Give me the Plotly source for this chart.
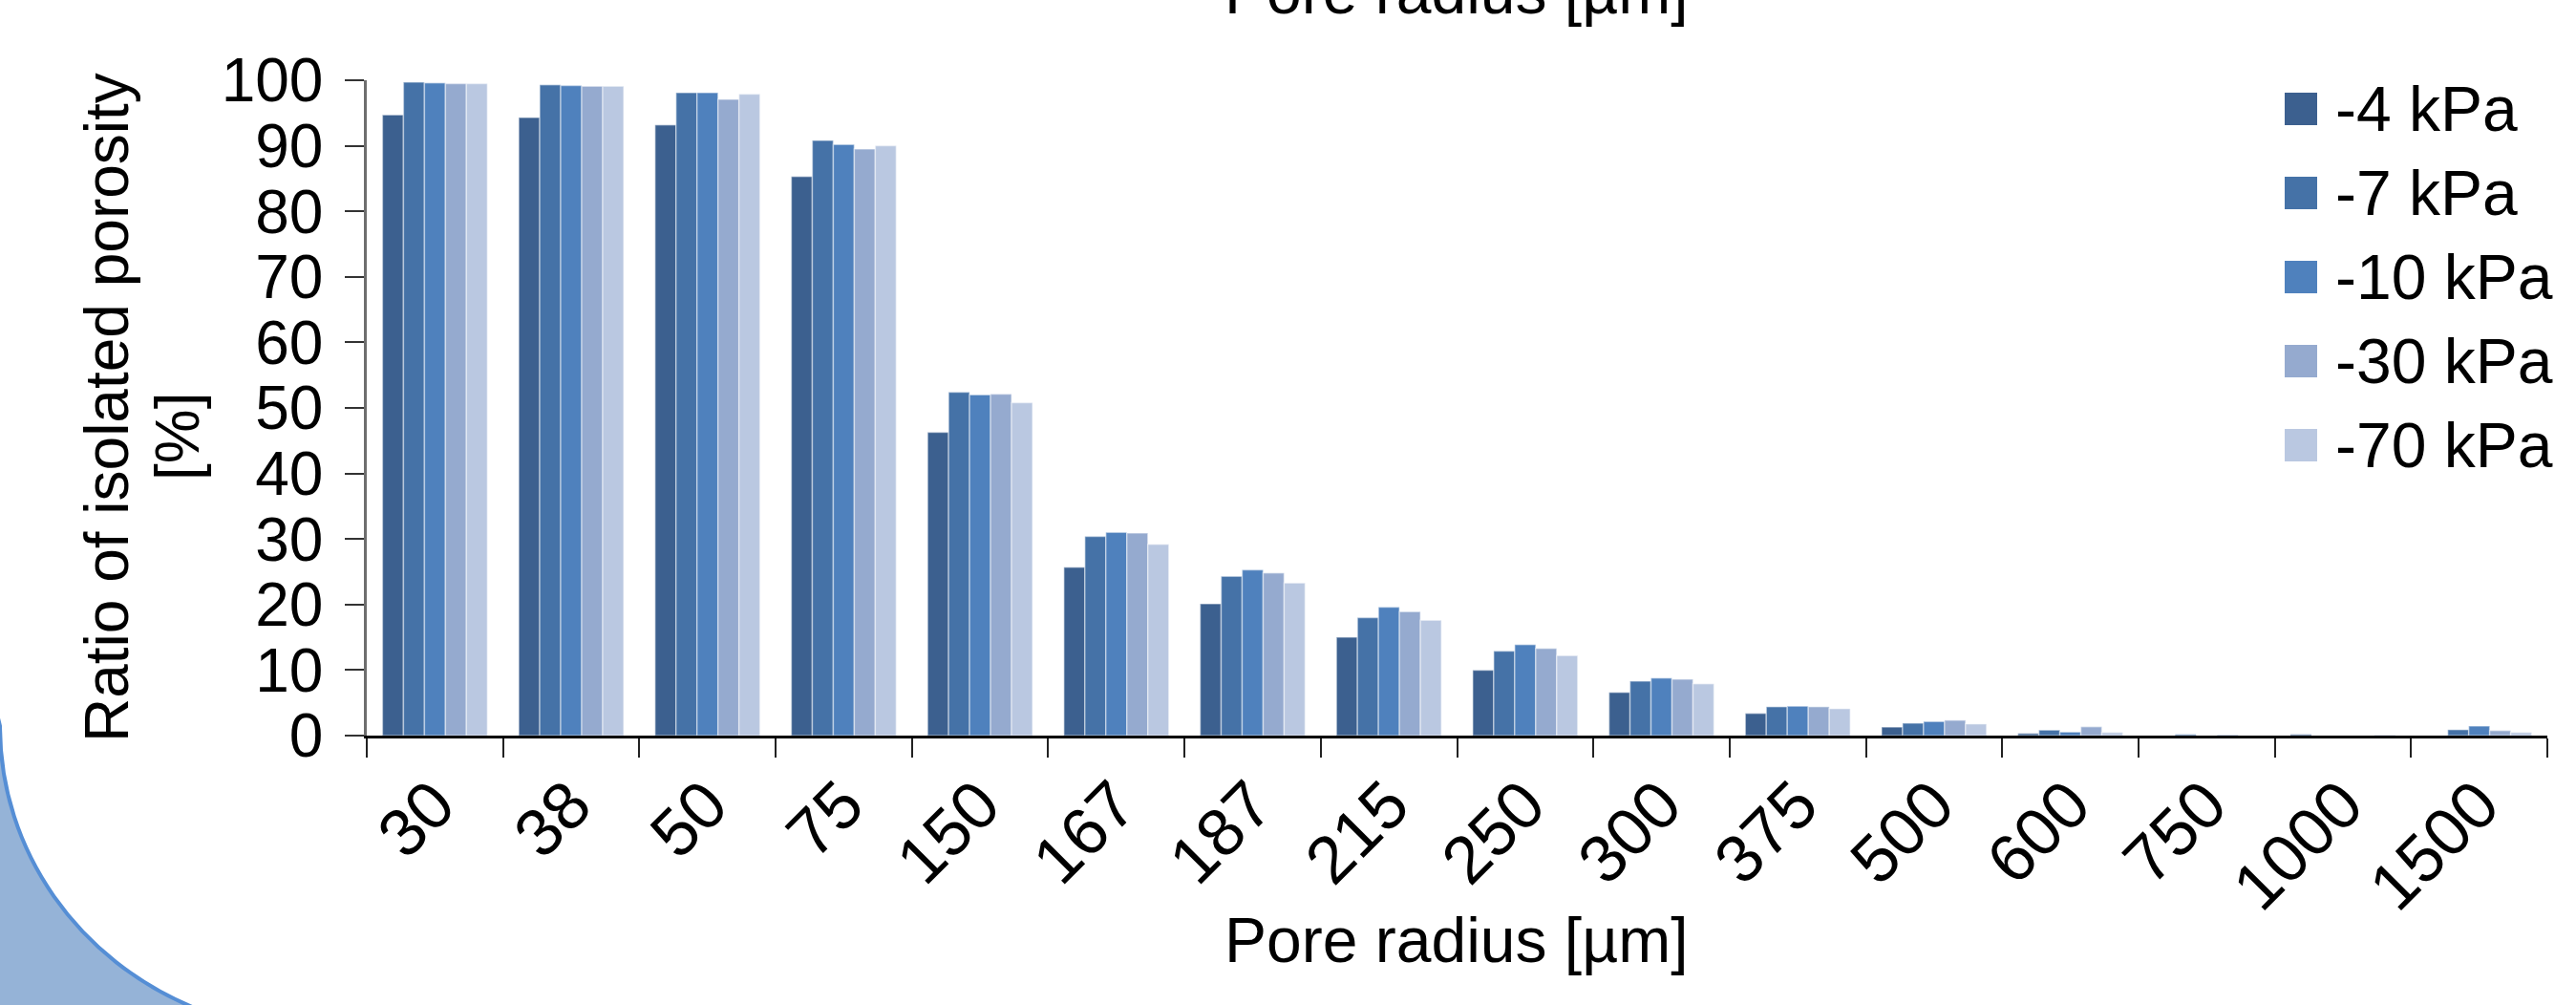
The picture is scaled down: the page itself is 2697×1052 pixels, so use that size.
import plotly.graph_objects as go

# ---------------- data ----------------
pore_radius = ["30", "38", "50", "75", "150", "167", "187", "215", "250",
               "300", "375", "500", "600", "750", "1000", "1500"]
series_names = ["-4 kPa", "-7 kPa", "-10 kPa", "-30 kPa", "-70 kPa"]
kpa_4 = [94.7, 94.3, 93.2, 85.3, 46.3, 25.7, 20.1, 15.0, 10.0, 6.6, 3.4, 1.3, 0.34, 0.0, 0.2, 0.0]
kpa_7 = [99.7, 99.3, 98.1, 90.8, 52.4, 30.4, 24.3, 18.0, 12.9, 8.3, 4.4, 1.9, 0.85, 0.2, 0.0, 0.9]
kpa_10 = [99.6, 99.2, 98.1, 90.2, 52.0, 31.0, 25.3, 19.6, 13.9, 8.8, 4.5, 2.15, 0.55, 0.0, 0.0, 1.46]
kpa_30 = [99.5, 99.1, 97.1, 89.5, 52.1, 30.9, 24.8, 18.9, 13.3, 8.6, 4.4, 2.35, 1.36, 0.12, 0.0, 0.78]
kpa_70 = [99.5, 99.1, 97.9, 90.0, 50.8, 29.2, 23.3, 17.6, 12.2, 7.9, 4.1, 1.77, 0.49, 0.0, 0.1, 0.49]
series_values = [kpa_4, kpa_7, kpa_10, kpa_30, kpa_70]
y_ticks = list(range(0, 101, 10))

x_title = "Pore radius [µm]"
y_title_1 = "Ratio of isolated porosity"
y_title_2 = "[%]"

# ---------------- style ----------------
colors = ["#3C608F", "#4572A7", "#4F81BD", "#95AACF", "#BAC8E1"]
FONT = "Liberation Sans, Arial, sans-serif"
W, H = 2697, 1052
L, R, T, B = 384, 30, 84, 282
PW, PH = W - L - R, H - T - B


def px(xp):
    return (xp - L) / PW


def py(yp):
    return (H - B - yp) / PH


fig = go.Figure()
for name, vals, col in zip(series_names, series_values, colors):
    fig.add_trace(go.Bar(
        x=pore_radius, y=vals, name=name, showlegend=False,
        marker=dict(color=col, line=dict(color="rgba(255,255,255,0.45)", width=1.5)),
    ))

shapes = []
annotations = []

# decorative corner shape (bottom-left)
path = (f"M {px(-6)},{py(735)} L {px(0)},{py(760)} "
        f"C {px(0)},{py(891)} {px(82)},{py(1006)} {px(206)},{py(1056)} "
        f"L {px(-12)},{py(1062)} Z")
shapes.append(dict(type="path", xref="paper", yref="paper", path=path,
                   fillcolor="#95B3D7", line=dict(color="#558ED5", width=4),
                   layer="below"))

# manual legend
leg_sq_left, leg_sq_size, leg_text_left = 2392, 34, 2443
leg_row0, leg_row_step = 114, 88
for i, (name, col) in enumerate(zip(series_names, colors)):
    cy = leg_row0 + i * leg_row_step
    shapes.append(dict(type="rect", xref="paper", yref="paper",
                       x0=px(leg_sq_left), x1=px(leg_sq_left + leg_sq_size),
                       y0=py(cy - leg_sq_size / 2), y1=py(cy + leg_sq_size / 2),
                       fillcolor=col, line=dict(width=0)))
    annotations.append(dict(xref="paper", yref="paper", x=px(leg_text_left), y=py(cy),
                            xanchor="left", yanchor="middle", text=name, showarrow=False,
                            font=dict(family=FONT, size=66, color="black")))

# axis titles
annotations.append(dict(xref="paper", yref="paper", x=px(1525), y=py(1023),
                        xanchor="center", yanchor="bottom", text=x_title, showarrow=False,
                        font=dict(family=FONT, size=66, color="black")))
# cut-off copy at the very top
annotations.append(dict(xref="paper", yref="paper", x=px(1525), y=py(30),
                        xanchor="center", yanchor="bottom", text=x_title, showarrow=False,
                        font=dict(family=FONT, size=66, color="black")))
annotations.append(dict(xref="paper", yref="paper", x=px(112), y=py(427),
                        xanchor="center", yanchor="middle", text=y_title_1, textangle=-90,
                        showarrow=False, font=dict(family=FONT, size=64, color="black")))
annotations.append(dict(xref="paper", yref="paper", x=px(186), y=py(457),
                        xanchor="center", yanchor="middle", text=y_title_2, textangle=-90,
                        showarrow=False, font=dict(family=FONT, size=64, color="black")))

fig.update_layout(
    width=W, height=H,
    margin=dict(l=L, r=R, t=T, b=B, pad=0),
    paper_bgcolor="white", plot_bgcolor="rgba(0,0,0,0)",
    barmode="group", bargap=0.23, bargroupgap=0,
    shapes=shapes, annotations=annotations,
    font=dict(family=FONT, color="black"),
)
fig.update_xaxes(
    type="category", showgrid=False, showline=True, linecolor="black", linewidth=3,
    ticks="outside", tickson="boundaries", ticklen=20, tickwidth=2, tickcolor="#222222",
    tickangle=-45, tickfont=dict(family=FONT, size=70, color="black"),
)
fig.update_yaxes(
    range=[0, 100], tickvals=y_ticks, showgrid=False, zeroline=False,
    showline=True, linecolor="#6E6E6E", linewidth=2.5,
    ticks="outside", ticklen=20, tickwidth=2, tickcolor="#333333",
    tickfont=dict(family=FONT, size=64, color="black"), ticklabelstandoff=10,
)

fig.write_html("out.html")
